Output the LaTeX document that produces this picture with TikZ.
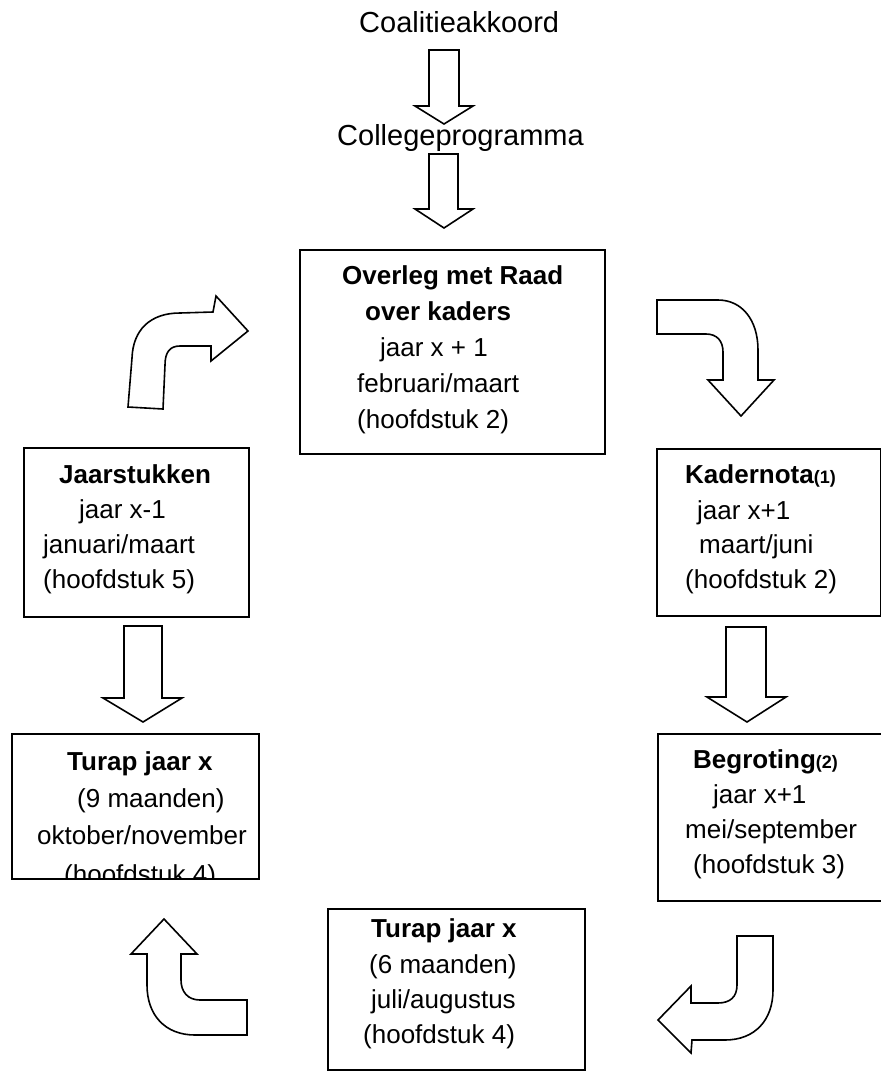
\documentclass[tikz,border=0pt]{standalone}
\usepackage{fontspec}
\setmainfont{Liberation Sans}
\begin{document}
\begin{tikzpicture}[x=1pt,y=-1pt,
  line join=miter,
  boxst/.style={draw, line width=1.6pt, inner sep=0, anchor=north west},
  arrowst/.style={draw, line width=1.6pt, fill=white, line join=miter},
  txt/.style={inner sep=0, anchor=base west, font=\fontsize{26}{30}\selectfont},
  btxt/.style={txt, font=\fontsize{26}{30}\selectfont\bfseries},
  top/.style={inner sep=0, anchor=base west, font=\fontsize{29}{34}\selectfont}]
\newcommand{\smallnum}[1]{{\fontsize{18}{18}\selectfont #1}}
\useasboundingbox[fill=white] (0,0) rectangle (881,1072);

% top labels
\node[top] (coal) at (359,32) {Coalitieakkoord};
\node[top] (coll) at (337,145) {Collegeprogramma};

% straight block arrows
\draw[arrowst] (429,50) -- (459,50) -- (459,106) -- (473,106) -- (444,124) -- (415,106) -- (429,106) -- cycle;
\draw[arrowst] (429,154) -- (458,154) -- (458,209) -- (473,209) -- (444,228) -- (415,209) -- (429,209) -- cycle;
\draw[arrowst] (124,626) -- (162,626) -- (162,698) -- (182,698) -- (143,722) -- (103,698) -- (124,698) -- cycle;
\draw[arrowst] (726,627) -- (766,627) -- (766,697) -- (786,697) -- (747,722) -- (707,697) -- (726,697) -- cycle;

% curved block arrows
\draw[arrowst] (128,407) -- (132,358) .. controls (133,330) and (150,313) .. (180,313) -- (213,312) -- (216,296) -- (248,331) -- (211,361) -- (211,346) -- (180,346) .. controls (170,346) and (165,352) .. (165,365) -- (163,409) -- cycle;
\draw[arrowst] (657,300) -- (718,300) .. controls (742,300) and (758,320) .. (758,350) -- (758,380) -- (774,380) -- (741,416) -- (708,380) -- (723,380) -- (723,352) .. controls (723,341) and (717,334) .. (706,334) -- (657,334) -- cycle;
\draw[arrowst] (737,936) -- (737,985) .. controls (737,997) and (730,1003) .. (718,1003) -- (691,1003) -- (691,986) -- (658,1020) -- (691,1053) -- (692,1040) -- (725,1040) .. controls (755,1040) and (773,1020) .. (773,990) -- (773,936) -- cycle;
\draw[arrowst] (247,1000) -- (200,1000) .. controls (188,1000) and (181,992) .. (181,980) -- (181,954) -- (197,954) -- (164,919) -- (131,954) -- (147,954) -- (147,985) .. controls (147,1015) and (165,1035) .. (195,1035) -- (247,1035) -- cycle;

% boxes
\node[boxst, minimum width=305pt, minimum height=204pt] (overleg) at (299,249) {};
\node[boxst, minimum width=225pt, minimum height=169pt] (jaar) at (23,447) {};
\node[boxst, minimum width=224pt, minimum height=167pt] (kader) at (656,448) {};
\node[boxst, minimum width=240pt, minimum height=167pt] (begr) at (657,733) {};
\node[boxst, minimum width=247pt, minimum height=145pt] (turap9) at (11,733) {};
\node[boxst, minimum width=257pt, minimum height=161pt] (turap6) at (327,908) {};

% Overleg
\node[btxt] (o1) at (342,284) {Overleg met Raad};
\node[btxt] (o2) at (365,320) {over kaders};
\node[txt] (o3) at (380,356) {jaar x + 1};
\node[txt] (o4) at (357,392) {februari/maart};
\node[txt] (o5) at (357,428) {(hoofdstuk 2)};

% Jaarstukken
\node[btxt] (j1) at (59,483) {Jaarstukken};
\node[txt] (j2) at (79,518) {jaar x-1};
\node[txt] (j3) at (43,553) {januari/maart};
\node[txt] (j4) at (43,588) {(hoofdstuk 5)};

% Kadernota
\node[btxt] (k1) at (685,483) {Kadernota\smallnum{(1)}};
\node[txt] (k2) at (697,519) {jaar x+1};
\node[txt] (k3) at (699,553) {maart/juni};
\node[txt] (k4) at (685,588) {(hoofdstuk 2)};

% Begroting
\node[btxt] (b1) at (693,768) {Begroting\smallnum{(2)}};
\node[txt] (b2) at (713,803) {jaar x+1};
\node[txt] (b3) at (685,838) {mei/september};
\node[txt] (b4) at (693,873) {(hoofdstuk 3)};

% Turap 9 maanden (last line clipped by box)
\begin{scope}
\clip (11,733) rectangle (258,878);
\node[btxt] (t1) at (67,770) {Turap jaar x};
\node[txt] (t2) at (77,807) {(9 maanden)};
\node[txt] (t3) at (37,844) {oktober/november};
\node[txt] (t4) at (64,883) {(hoofdstuk 4)};
\end{scope}

% Turap 6 maanden
\node[btxt] (s1) at (371,937) {Turap jaar x};
\node[txt] (s2) at (369,973) {(6 maanden)};
\node[txt] (s3) at (371,1008) {juli/augustus};
\node[txt] (s4) at (363,1043) {(hoofdstuk 4)};
\end{tikzpicture}
\end{document}
